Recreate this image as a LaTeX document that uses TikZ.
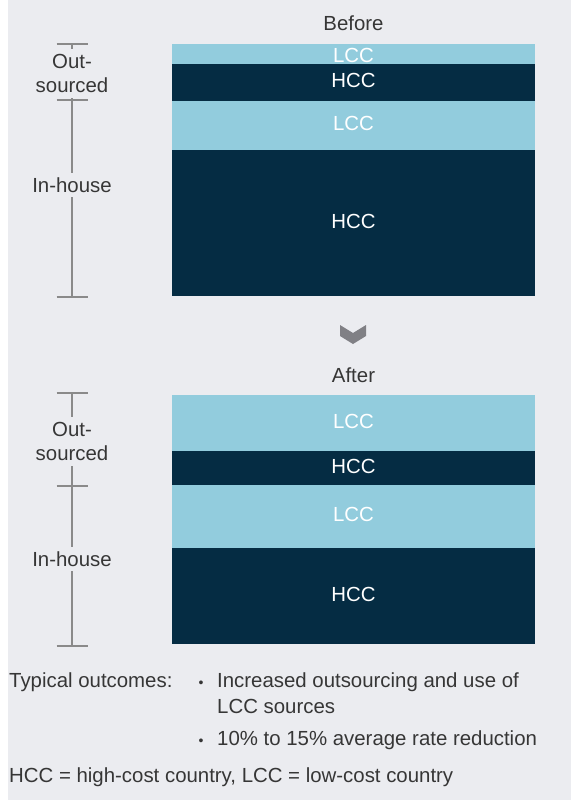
\documentclass[tikz,border=0pt]{standalone}
\usepackage{fontspec}
\setmainfont{Liberation Sans}
\definecolor{bgray}{HTML}{EBECF0}
\definecolor{lccblue}{HTML}{92CCDD}
\definecolor{hccnavy}{HTML}{052C43}
\definecolor{brkgray}{HTML}{8A8A8A}
\definecolor{txtgray}{HTML}{363636}
\definecolor{chevgray}{HTML}{808085}
\tikzset{
	lccbar/.style={fill=lccblue, text=white, minimum width=363pt, inner sep=0pt, text depth=4pt},
	hccbar/.style={lccbar, fill=hccnavy},
	brk/.style={draw=brkgray, line width=1.5pt},
	brklabel/.style={fill=bgray, text=txtgray, inner sep=5pt, align=center},
	plain/.style={text=txtgray, inner sep=0pt},
	dot/.style={plain, font=\fontsize{14}{14}\selectfont},
}
\begin{document}
\begin{tikzpicture}[x=1pt, y=-1pt, font=\fontsize{20.4}{24}\selectfont]
	\useasboundingbox (0,0) rectangle (571,800);
	\fill[white] (0,0) rectangle (8,800);
	\fill[bgray] (8,0) rectangle (571,800);
	
	% before
	\node[plain] (before) at (353.5,23) {Before};
	\node[lccbar, minimum height=20pt, text height=18pt, text depth=0pt] (b1) at (353.5,54) {LCC};
	\node[hccbar, minimum height=37pt] (b2) at (353.5,82.5) {HCC};
	\node[lccbar, minimum height=49pt] (b3) at (353.5,125.5) {LCC};
	\node[hccbar, minimum height=146pt] (b4) at (353.5,223) {HCC};
	
	% chevron
	\fill[chevgray] (340,325) -- (353,333) -- (366,325) -- (366,336) -- (353,344) -- (340,336) -- cycle;
	
	% after
	\node[plain] (after) at (353.5,375) {After};
	\node[lccbar, minimum height=56pt] (a1) at (353.5,423) {LCC};
	\node[hccbar, minimum height=34pt] (a2) at (353.5,468) {HCC};
	\node[lccbar, minimum height=63pt] (a3) at (353.5,516.5) {LCC};
	\node[hccbar, minimum height=96pt] (a4) at (353.5,596) {HCC};
	
	% brackets
	\coordinate (bt) at (72,44);
	\coordinate (bm) at (72,100);
	\coordinate (bb) at (72,297);
	\coordinate (at) at (72,393);
	\coordinate (am) at (72,486);
	\coordinate (ab) at (72,646);
	\draw[brk] (bt) -- (bb);
	\draw[brk] (at) -- (ab);
	\foreach \c in {bt,bm,bb,at,am,ab}
		\draw[brk] ([xshift=-15.5pt]\c) -- ([xshift=15.5pt]\c);
	\node[brklabel] (bout) at (72,73.5) {Out-\\sourced};
	\node[brklabel] (bin) at (72,185) {In-house};
	\node[brklabel] (aout) at (72,441.5) {Out-\\sourced};
	\node[brklabel] (ain) at (72,559) {In-house};
	
	% outcomes
	\node[plain, anchor=base west] (typ) at (9,687) {Typical outcomes:};
	\node[dot] (dot1) at (201,684) {•};
	\node[plain, anchor=base west] (out1) at (217,687) {Increased outsourcing and use of};
	\node[plain, anchor=base west] (out1b) at (217,713) {LCC sources};
	\node[dot] (dot2) at (201,742) {•};
	\node[plain, anchor=base west] (out2) at (217,745) {10\% to 15\% average rate reduction};
	\node[plain, anchor=base west] (note) at (9,782) {HCC = high-cost country, LCC = low-cost country};
	
\end{tikzpicture}
\end{document}
